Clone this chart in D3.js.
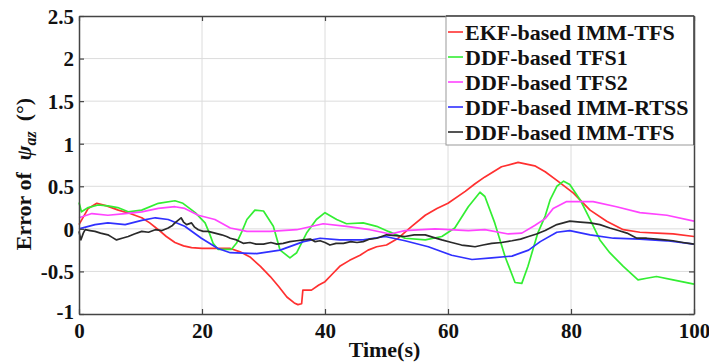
<!DOCTYPE html>
<html><head><meta charset="utf-8">
<script src="https://cdn.jsdelivr.net/npm/d3@7"></script>
<style>body{margin:0;background:#fff}svg{display:block}</style>
</head><body>
<svg id="c" width="709" height="362"></svg>
<script>
const seriesNames = ["EKF-based IMM-TFS","DDF-based TFS1","DDF-based TFS2","DDF-based IMM-RTSS","DDF-based IMM-TFS"];
const seriesColors = ["#ff3030","#33ee33","#ff44ff","#3030ff","#2a2a2a"];
const xTicks = [0,20,40,60,80,100];
const yTicks = [-1,-0.5,0,0.5,1,1.5,2,2.5];
const yTickLabels = ["-1","-0.5","0","0.5","1","1.5","2","2.5"];

const ekfT = [0,1.5,2.9,4.5,6.4,8.3,10.2,11.5,12.9,14.2,15.6,17,18.3,20,22.1,24.6,26.2,27.8,29.5,31.1,32.5,33.8,35,35.6,36.2,36.4,37.8,39,40,41.2,42.4,44,45.7,47,48.4,50,51.9,54.1,56.3,58.2,60,62.8,64.4,66,68.7,71.4,74.1,75.8,77.7,80.4,83.1,85.8,88.5,91.2,94,96.6,100];
const ekfV = [0.05,0.24,0.30,0.27,0.22,0.18,0.13,0.07,-0.01,-0.09,-0.16,-0.20,-0.22,-0.23,-0.23,-0.23,-0.27,-0.33,-0.44,-0.56,-0.68,-0.80,-0.87,-0.89,-0.88,-0.72,-0.72,-0.66,-0.62,-0.53,-0.44,-0.37,-0.31,-0.25,-0.21,-0.19,-0.11,0.03,0.16,0.24,0.30,0.44,0.53,0.61,0.73,0.78,0.74,0.67,0.57,0.42,0.22,0.09,-0.01,-0.04,-0.05,-0.06,-0.09];

const tfs1T = [0,0.4,1.5,3.1,4.7,6.3,8,10.2,12.9,15.6,16.9,18.9,20.5,21.2,21.8,22.6,24.8,25.6,26.5,27.3,28.6,30,31.6,32.7,34.3,35.4,37,38.6,40,41.9,43.5,46.2,48.4,50.3,53,56.3,59,61.1,63.3,65.2,66,67.6,69.3,70.9,72,73,74.6,75.8,76.6,77.7,78.8,79.8,81.5,83.1,84.7,86.3,88.5,90.9,92.3,93.9,96.6,100];
const tfs1V = [0.31,0.20,0.25,0.28,0.27,0.25,0.20,0.22,0.30,0.33,0.30,0.19,0.07,-0.05,-0.17,-0.24,-0.24,-0.17,-0.03,0.11,0.22,0.21,0.03,-0.25,-0.34,-0.28,-0.05,0.11,0.19,0.11,0.06,0.07,0.03,-0.03,-0.11,-0.13,-0.09,0.01,0.26,0.43,0.38,0.07,-0.33,-0.63,-0.64,-0.44,-0.05,0.15,0.34,0.50,0.56,0.52,0.34,0.11,-0.13,-0.28,-0.44,-0.60,-0.58,-0.56,-0.60,-0.65];

const tfs2T = [0,2.1,4.7,7.5,10.2,12.9,15.6,17.2,19.4,22.1,24.6,27.3,31.1,35.4,39.7,43.5,47.3,50.6,53,57.9,63.3,66,69.8,72,74.1,75.8,77.1,79.3,83.6,87.4,91.2,95.6,100];
const tfs2V = [0.13,0.18,0.16,0.18,0.20,0.24,0.26,0.24,0.16,0.11,0.01,-0.03,-0.03,-0.01,0.06,0.03,-0.01,-0.06,-0.02,0.0,-0.02,-0.01,-0.06,-0.05,0.04,0.12,0.24,0.32,0.32,0.26,0.19,0.16,0.09];

const rtssT = [0,2.6,4.7,7.5,10.2,12.4,14.5,17.2,19.9,22.6,24.6,28.9,32.7,36.5,39.2,42.4,46.2,49.8,53,56.8,60.6,63.9,67.1,70.4,73.1,75,77.7,79.8,83.1,86.9,91.2,95.6,100];
const rtssV = [0.0,0.05,0.07,0.05,0.10,0.13,0.11,0.03,-0.11,-0.23,-0.28,-0.29,-0.25,-0.15,-0.11,-0.13,-0.13,-0.09,-0.14,-0.21,-0.31,-0.36,-0.34,-0.32,-0.25,-0.15,-0.04,-0.02,-0.07,-0.11,-0.12,-0.14,-0.18];

const immT = [0,0.3,0.7,1.0,1.8,2.6,3.5,4.7,5.4,6.1,7.0,8.0,9.0,10.2,11.3,12.4,13.5,14.5,15.2,15.6,16.1,16.6,17.0,17.5,18.3,18.8,19.4,20.2,21.0,22.1,23.2,24.0,24.6,25.6,26.7,27.8,28.8,30.0,31.2,32.2,33.2,34.3,35.4,36.5,37.6,38.4,39.2,40.0,40.8,41.8,43.0,44.2,45.2,46.2,47.3,48.4,50.0,51.5,53.0,54.5,56.3,57.6,59.0,60.6,62.2,63.3,64.4,65.7,67.1,68.7,70.4,71.8,73.1,74.4,75.8,77.7,79.8,81.5,83.1,84.7,86.3,87.7,89.1,90.7,92.3,93.9,95.2,96.6,98.2,100];
const immV = [-0.03,-0.13,-0.05,-0.01,-0.02,-0.03,-0.05,-0.07,-0.10,-0.13,-0.11,-0.09,-0.06,-0.03,-0.04,-0.01,-0.02,0.01,0.04,0.07,0.10,0.13,0.08,0.05,0.07,0.02,-0.01,-0.03,-0.03,-0.05,-0.07,-0.09,-0.11,-0.13,-0.17,-0.16,-0.18,-0.18,-0.16,-0.18,-0.17,-0.15,-0.14,-0.13,-0.12,-0.15,-0.14,-0.16,-0.19,-0.17,-0.17,-0.15,-0.16,-0.15,-0.12,-0.11,-0.07,-0.08,-0.09,-0.07,-0.07,-0.10,-0.13,-0.16,-0.19,-0.20,-0.21,-0.19,-0.17,-0.16,-0.14,-0.12,-0.09,-0.06,-0.02,0.05,0.09,0.08,0.07,0.05,0.01,-0.02,-0.05,-0.11,-0.11,-0.12,-0.13,-0.14,-0.16,-0.18];

const seriesT = [ekfT, tfs1T, tfs2T, rtssT, immT];
const seriesV = [ekfV, tfs1V, tfs2V, rtssV, immV];

const L = 79, T = 16, R = 694, B = 314;
const svg = d3.select("#c");
const x = d3.scaleLinear().domain([0,100]).range([L,R]);
const y = d3.scaleLinear().domain([-1,2.5]).range([B,T]);
const font = "'Liberation Serif','Times New Roman',serif";

// grid
svg.append("g").selectAll("line").data(xTicks.slice(1,-1)).join("line")
  .attr("x1",d=>x(d)).attr("x2",d=>x(d)).attr("y1",T).attr("y2",B)
  .attr("stroke","#dcdcdc").attr("stroke-width",1);
svg.append("g").selectAll("line").data(yTicks.slice(1,-1)).join("line")
  .attr("x1",L).attr("x2",R).attr("y1",d=>y(d)).attr("y2",d=>y(d))
  .attr("stroke","#dcdcdc").attr("stroke-width",1);

// lines
const line = d3.line().x(d=>x(d[0])).y(d=>y(d[1]));
seriesNames.forEach((n,i)=>{
  const pts = seriesT[i].map((t,j)=>[t, seriesV[i][j]]);
  svg.append("path").datum(pts).attr("d",line).attr("fill","none")
    .attr("stroke",seriesColors[i]).attr("stroke-width",1.7).attr("stroke-linejoin","round");
});

// axes
const ax = svg.append("g").attr("font-family",font);
const xAxis = d3.axisBottom(x).tickValues(xTicks).tickSizeInner(-5).tickSizeOuter(0).tickPadding(9).tickFormat(d3.format("d"));
const gx = ax.append("g").attr("transform",`translate(0,${B})`).call(xAxis);
const yAxis = d3.axisLeft(y).tickValues(yTicks).tickSizeInner(-5).tickSizeOuter(0).tickPadding(5).tickFormat((d,i)=>yTickLabels[i]);
const gy = ax.append("g").attr("transform",`translate(${L},0)`).call(yAxis);
const gxt = ax.append("g").attr("transform",`translate(0,${T})`).call(d3.axisTop(x).tickValues(xTicks).tickSizeInner(-5).tickSizeOuter(0).tickFormat(""));
const gyr = ax.append("g").attr("transform",`translate(${R},0)`).call(d3.axisRight(y).tickValues(yTicks).tickSizeInner(-5).tickSizeOuter(0).tickFormat(""));
[gx,gy,gxt,gyr].forEach(g=>{
  g.select(".domain").attr("stroke","#444").attr("stroke-width",1.5);
  g.selectAll(".tick line").attr("stroke","#444").attr("stroke-width",1.2);
  g.selectAll("text").attr("font-size",21).attr("font-weight","bold").attr("fill","#111").attr("font-family",font);
});
gy.selectAll(".tick text").attr("dy","0.35em");
gy.selectAll(".tick").filter(d=>d===-1).select("text").attr("dy","0.2em");

// legend
const lg = svg.append("g");
const lx0 = 446, ly0 = 16, lw = R - lx0, lh = 129;
svg.append("clipPath").attr("id","lgclip").append("rect").attr("x",lx0).attr("y",ly0).attr("width",lw).attr("height",lh);
lg.append("rect").attr("x",lx0).attr("y",ly0).attr("width",lw).attr("height",lh)
  .attr("fill","#fff").attr("stroke","#999").attr("stroke-width",1);
const items = lg.append("g").attr("clip-path","url(#lgclip)");
seriesNames.forEach((n,i)=>{
  const cy = 32 + i*25;
  items.append("line").attr("x1",448).attr("x2",463).attr("y1",cy).attr("y2",cy)
    .attr("stroke",seriesColors[i]).attr("stroke-width",1.6);
  items.append("text").attr("x",465).attr("y",cy).attr("dy","0.35em")
    .attr("font-family",font).attr("font-weight","bold").attr("font-size",22).attr("fill","#111").text(n);
});
svg.append("line").attr("x1",lx0).attr("x2",R).attr("y1",T).attr("y2",T).attr("stroke","#444").attr("stroke-width",1.5);
svg.append("line").attr("x1",R).attr("x2",R).attr("y1",T).attr("y2",ly0+lh).attr("stroke","#444").attr("stroke-width",1.5);

// axis titles
svg.append("text").attr("x",(L+R)/2 - 2).attr("y",357).attr("text-anchor","middle")
  .attr("font-family",font).attr("font-weight","bold").attr("font-size",22).attr("fill","#111").text("Time(s)");
const yl = svg.append("text").attr("transform","translate(31,174) rotate(-90)").attr("text-anchor","middle")
  .attr("font-family",font).attr("font-weight","bold").attr("font-size",22).attr("fill","#111");
yl.append("tspan").text("Error of");
yl.append("tspan").attr("dx",12).attr("font-style","italic").text("ψ");
yl.append("tspan").attr("font-style","italic").attr("font-size",16).attr("dy",5).text("az");
yl.append("tspan").attr("dx",10).attr("dy",-5).text("(°)");
</script>
</body></html>
